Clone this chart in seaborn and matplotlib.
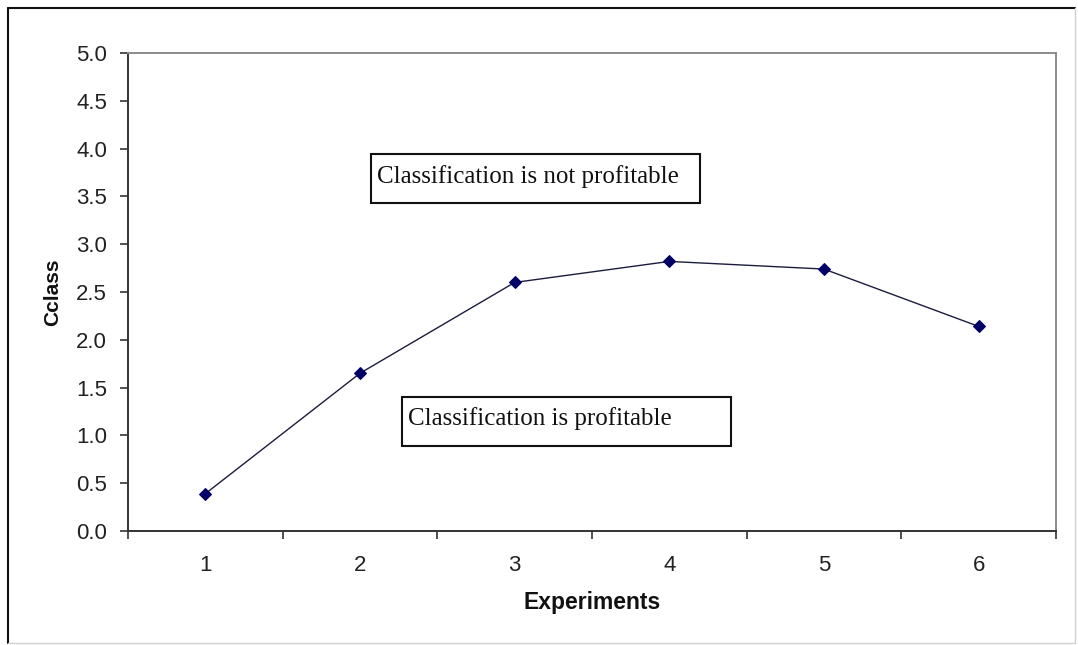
import matplotlib
matplotlib.use("Agg")
import matplotlib.pyplot as plt
from matplotlib.patches import Rectangle
from matplotlib.ticker import FixedLocator, FormatStrFormatter
import seaborn as sns
import pandas as pd

# Cclass measured for each experiment
experiments = [1, 2, 3, 4, 5, 6]
cclass = [0.39, 1.65, 2.60, 2.82, 2.74, 2.14]
y_ticks = [0.0, 0.5, 1.0, 1.5, 2.0, 2.5, 3.0, 3.5, 4.0, 4.5, 5.0]
region_labels = ["Classification is not profitable", "Classification is profitable"]

sns.set_theme(style="white")
plt.rcParams["font.family"] = ["Liberation Sans", "DejaVu Sans"]

df = pd.DataFrame({"Experiments": experiments, "Cclass": cclass})

fig = plt.figure(figsize=(10.78, 6.45), dpi=100, facecolor="white")
ax = fig.add_axes([128 / 1078, 1 - 531 / 645, 928 / 1078, 478 / 645])

sns.lineplot(data=df, x="Experiments", y="Cclass", ax=ax, color="#1c1c40",
             linewidth=1.0, marker="D", markersize=6.5,
             markerfacecolor="#000066", markeredgecolor="#000066")

# category-style x axis: labels at centres, tick marks between categories
ax.set_xlim(0.5, 6.5)
ax.set_xticks(experiments)
ax.set_xticklabels([str(e) for e in experiments])
ax.xaxis.set_minor_locator(FixedLocator([e - 0.5 for e in experiments] + [6.5]))
ax.tick_params(axis="x", which="major", length=0, pad=17, labelsize=16, labelcolor="#222222")
ax.tick_params(axis="x", which="minor", bottom=True, length=6, width=1.2, direction="out", color="#333333")

ax.set_ylim(0, 5)
ax.set_yticks(y_ticks)
ax.yaxis.set_major_formatter(FormatStrFormatter("%.1f"))
ax.tick_params(axis="y", which="major", left=True, length=6, width=1.2, direction="out",
               color="#333333", pad=9, labelsize=16, labelcolor="#222222")

for side in ("left", "bottom"):
    ax.spines[side].set_color("#333333")
    ax.spines[side].set_linewidth(1.4)
for side in ("top", "right"):
    ax.spines[side].set_color("#8c8c8c")
    ax.spines[side].set_linewidth(1.4)

ax.set_xlabel("Experiments", fontsize=16.5, fontweight="bold", color="#111111")
ax.xaxis.label.set_va("center")
ax.xaxis.set_label_coords(0.5, -(603 - 531) / 478)
ax.set_ylabel("Cclass", fontsize=15, fontweight="bold", color="#111111")
ax.yaxis.label.set_va("center")
ax.yaxis.set_label_coords((53 - 128) / 928, 0.5)

# region annotations in framed boxes
serif = ["Liberation Serif", "DejaVu Serif"]
boxes = [((2.071, 3.431), 2.127, 0.513, (2.11, 3.64)),
         ((2.271, 0.889), 2.128, 0.513, (2.31, 1.11))]
for label, ((bx, by), bw, bh, (tx, ty)) in zip(region_labels, boxes):
    ax.add_patch(Rectangle((bx, by), bw, bh, facecolor="white", edgecolor="#111111",
                           linewidth=1.5, zorder=4))
    ax.text(tx, ty, label, family=serif, fontsize=18, color="#111111",
            ha="left", va="baseline", zorder=5)

# outer chart frame
fig.patches.append(plt.Line2D([8 / 1078, 8 / 1078], [1 - 643 / 645, 1 - 8 / 645],
                              transform=fig.transFigure, color="#111111", linewidth=1.5))
fig.patches.append(plt.Line2D([8 / 1078, 1075 / 1078], [1 - 8 / 645, 1 - 8 / 645],
                              transform=fig.transFigure, color="#111111", linewidth=1.5))
fig.patches.append(plt.Line2D([1075 / 1078, 1075 / 1078], [1 - 643 / 645, 1 - 8 / 645],
                              transform=fig.transFigure, color="#d0d0d0", linewidth=1.0))
fig.patches.append(plt.Line2D([8 / 1078, 1075 / 1078], [1 - 643 / 645, 1 - 643 / 645],
                              transform=fig.transFigure, color="#d0d0d0", linewidth=1.0))

fig.savefig("out.png", dpi=100, facecolor="white")
